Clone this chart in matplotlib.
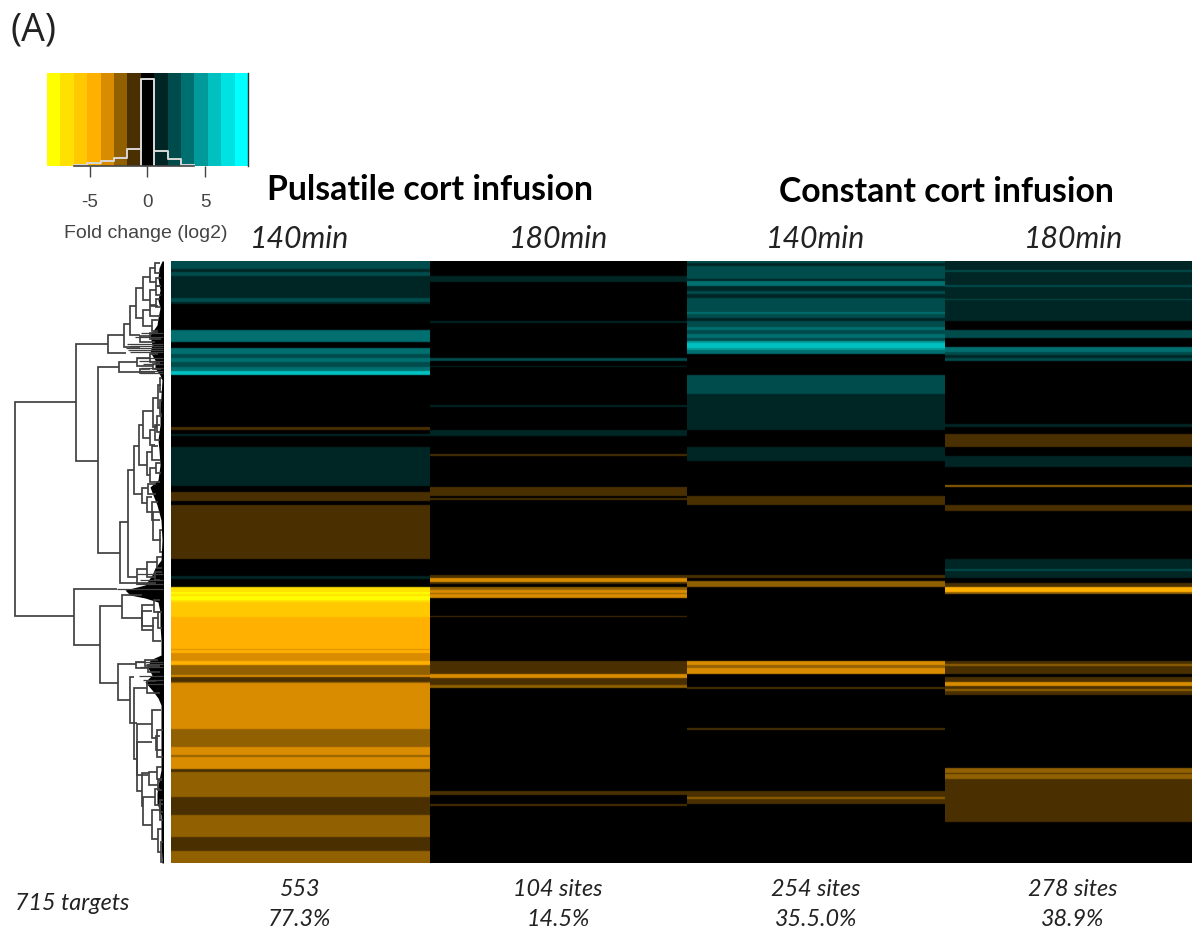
import numpy as np
import matplotlib
matplotlib.use("Agg")
import matplotlib.pyplot as plt
from matplotlib.colors import ListedColormap, BoundaryNorm

W, H = 1192, 933
# ---- data -----------------------------------------------------------------
LEVEL_COLORS = ['#FFFF00', '#FFE000', '#FFC800', '#FFB000', '#DA8C00', '#916000', '#4A3000', '#000000',
                '#002525', '#004B4B', '#006F6F', '#009A9A', '#00C0C0', '#00E2E2', '#00FFFF']
BAR_RANGE = (-8.68, 8.72)
HIST_LEVELS = [-5, -4, -3, -2, -1, 0, 1, 2, 3]
HIST_HEIGHTS = [0.01, 0.03, 0.055, 0.09, 0.18, 0.935, 0.165, 0.08, 0.01]
COLORBAR_TICKS = [-5, 0, 5]

COLUMNS = ['Pulsatile 140min', 'Pulsatile 180min', 'Constant 140min', 'Constant 180min']
ROW_RANGE = (261, 863)
# runs: (row start, row end, level); everything else is level 0
RUNS_P140 = [(261,269,2),(269,272,1),(272,276,2),(276,298,1),(298,302,2),(302,304,1),(330,336,3),(336,342,3),
             (348,354,3),(354,358,2),(358,362,3),(362,367,2),(367,371,3),(371,375,5),(427,430,-1),(434,436,1),
             (447,486,1),(492,501,-1),(505,559,-1),(576,579,1),(587,592,-6),(592,594,-7),(594,596,-6),(596,600,-7),(600,602,-6),
             (602,617,-5),(617,619,-4),(619,649,-4),(649,650,-3),(650,653,-4),(653,661,-3),(661,665,-4),
             (665,675,-2),(675,677,-3),(677,682,-1),(682,683,-2),(683,729,-3),(729,747,-2),(747,755,-3),
             (755,757,-2),(757,769,-3),(769,772,-1),(772,797,-2),(797,815,-1),(815,837,-2),(837,851,-1),(851,863,-2)]
RUNS_P180 = [(276,282,1),(321,323,1),(358,361,2),(366,367,1),(405,407,1),(430,436,1),(454,456,-1),(487,496,-1),
             (498,500,-1),(575,578,-1),(578,582,-3),(582,584,-1),(587,590,-2),(590,593,-3),(593,594,-2),(594,598,-3),
             (616,617,-1),(661,674,-1),(674,678,-3),(678,685,-1),(685,688,-2),(791,795,-1),(804,806,-1)]
RUNS_C140 = [(261,263,2),(263,266,1),(266,279,2),(279,281,1),(281,286,3),(286,291,1),(291,294,2),(294,298,1),
             (298,312,2),(312,314,3),(314,318,2),(318,321,1),(321,327,2),(327,330,3),(330,334,2),(334,338,3),
             (338,341,2),(341,343,4),(343,348,5),(348,350,4),(350,354,3),(375,394,2),(394,430,1),(447,461,1),
             (496,505,-1),(575,578,-1),(581,587,-2),(661,665,-3),(665,668,-2),(668,674,-3),(687,689,-1),
             (728,730,-1),(791,797,-1),(797,799,-2),(799,804,-1)]
RUNS_C180 = [(261,270,1),(270,272,2),(272,285,1),(285,287,2),(287,299,1),(299,300,2),(300,321,1),(330,338,2),
             (347,352,3),(352,355,2),(355,358,1),(358,361,2),(424,427,1),(434,447,-1),(456,467,1),(485,487,-2),
             (505,511,-1),(559,569,1),(569,571,2),(571,578,1),(583,587,-1),(587,592,-4),(592,594,-2),
             (661,664,-1),(664,666,-2),(666,668,-1),(668,674,-1),(677,682,-1),(682,686,-3),(686,689,-1),
             (689,691,-2),(691,695,-1),(768,773,-2),(773,774,-1),(774,779,-2),(779,822,-1)]
ALL_RUNS = [RUNS_P140, RUNS_P180, RUNS_C140, RUNS_C180]

# dendrogram links: (merge x, upper y, upper child x, lower y, lower child x)
LINKS = [(14.5,402,76,616,74),(76,344,108,461,98),(108,335,124,353,126),(124,324,130,347,140),(130,306,136,335,140),
 (136,288,143,318,143),(143,277,150,300,150),(150,268,155,282,156),(155,263,160,273,160),(156,278,161,286,161),
 (150,290,156,305,156),(156,286,161,295,161),(156,299,160,307,161),(143,310,150,326,152),(150,306,158,316,160),
 (152,320,158,331,158),(140,336,150,342,155),(150,333,158,339,161),
 (98,367,119,553,119.5),(119,362,137,372,140),(137,358,150,366,153),(150,354,158,362,160),(153,364,160,369,161),(140,369,150,373,155),
 (119.5,522,128,583,156),(128,470,134,577,137),(134,446,139.3,494,142),(139.3,425,143.3,465,147),(143.3,411,153,438,150),
 (153,398,158,427,157),(158,385,161,408,160),(160,378,162,392,162),(160,400,162,414,162),(157,416,162,432,160),(150,430,155,445,155),
 (155,425,160,440,160),(147,452,152,475,150),(152,446,158,460,160),(150,468,156,482,160),(156,463,161,473,161),
 (142,488,148,503,147),(148,484,156,494,156),(147,497,152,512,153),(152,502,158,520,160),(153,512,160,540,161),(160,530,162,552,162),
 (137,569,147,584,150),(147,562,157,577,155),(157,557,162,568,162),(155,572,162,580,160),
 (74,589,117,645,100),(100,606,122,683,118),(122,595,142,618,142),(142,605,154,630,153),(154,600,160,612,160),
 (153,618,158,641,161),(158,612,162,628,162),(142,611,152,626,154),
 (118,664,136,700,130),(136,662,145,668,148),(145,660,158,666,160),(148,665,158,672,160),
 (130,677,134,723,137),(134,688,147,759,137),(147,681,156,693,160),(137,724,152,791,142),(152,710,161,738,157),
 (157,730,163,757,163),(156,736,160,750,162),(137,742,152,775,148),(142,773,149,806,143),(149,772,157,785,158),
 (157,767,162,779,162),(158,780,162,790,162),(143,797,155,825,152),(155,789,160,805,160),(160,800,163,812,163),
 (152,810,160,839,158),(160,804,163,820,163),(158,829,162,852,161),(161,842,163,862,163)]
# single long leaves: (start x, y)
LEAVES = [(127,344),(130,346),(126,348),(128,350),(130,352),(137,358),(139,361),(143,364),(141,368),(140,371),(140,373),
          (135,337),(141,333),(117,589),(137,574),(140,580),(136,584),(146,664),(135,662),(140,667),(139,676),(143,680),(146,684)]
# left edge of the dense black leaf mass along the rows: (y, x)
MASS_PROFILE = [(261,162),(268,159),(278,158),(290,160),(300,158),(308,160),(318,158),(325,157),(335,150),(345,152),
                (352,150),(360,155),(368,155),(375,160),(380,162),(395,161),(410,160),(425,160),(440,158),(450,159),
                (465,160),(480,158),(487,150),(495,153),(505,157),(520,161),(540,162),(560,161),(568,155),(575,152),
                (585,145),(590,125),(595,130),(598,145),(602,158),(612,160),(625,160),(640,161),(655,161),(660,150),
                (668,148),(675,152),(682,145),(690,152),(698,158),(705,161),(740,161),(770,161),(780,159),(793,157),
                (803,157),(815,161),(840,161),(863,162)]

def axpx(x0, y0, x1, y1):
    return fig.add_axes([x0/W, 1-y1/H, (x1-x0)/W, (y1-y0)/H])
def tx(x, y, s, **k):
    fig.text(x/W, 1-y/H, s, ha=k.pop('ha','center'), va='center', **k)

fig = plt.figure(figsize=(W/100, H/100), dpi=100, facecolor='white')
cmap = ListedColormap(LEVEL_COLORS)
norm = BoundaryNorm(np.arange(-7.5, 8.5), 15)

# heatmap
hm = axpx(171, 261, 1192, 863)
matrix = np.zeros((ROW_RANGE[1]-ROW_RANGE[0], len(COLUMNS)), dtype=int)
for c, runs in enumerate(ALL_RUNS):
    for a, b, lev in runs:
        matrix[a-ROW_RANGE[0]:b-ROW_RANGE[0], c] = lev
rgb = cmap(norm(matrix))[:, :, :3]
# the source picture is a slightly soft screenshot
soft = rgb.copy()
soft[1:-1] = 0.15*rgb[:-2] + 0.7*rgb[1:-1] + 0.15*rgb[2:]
col_edges = np.array([171, 430, 687, 945, 1192])
hm.pcolormesh(col_edges, np.arange(ROW_RANGE[0], ROW_RANGE[1]+1), soft, rasterized=True)
hm.set_xlim(171, 1192); hm.set_ylim(ROW_RANGE[1], ROW_RANGE[0]); hm.axis('off')

# dendrogram
dn = axpx(0, 261, 165, 863)
dn.set_xlim(0, 165); dn.set_ylim(ROW_RANGE[1], ROW_RANGE[0]); dn.axis('off')
for x, y1, x1, y2, x2 in LINKS:
    dn.plot([x1, x, x, x2], [y1, y1, y2, y2], color='#404040', lw=1.25, solid_joinstyle='miter', solid_capstyle='butt')
for x, y in LEAVES:
    dn.plot([x, 163], [y, y], color='#404040', lw=0.9, solid_capstyle='butt')
my, mx = np.array(MASS_PROFILE).T
dn.fill_betweenx(my, mx, 163.5, color='black', lw=0)

# colour key
cb = axpx(47, 73, 248, 166)
edges = np.linspace(BAR_RANGE[0], BAR_RANGE[1], 16)
cb.pcolormesh(edges, [0, 1], np.arange(-7, 8).reshape(1, -1), cmap=cmap, norm=norm)
step_x = [edges[l+7] for l in HIST_LEVELS] + [edges[HIST_LEVELS[-1]+8]]
step_y = HIST_HEIGHTS + [HIST_HEIGHTS[-1]]
cb.step(step_x, step_y, where='post', color='#d8d8d8', lw=1.4, clip_on=False)
cb.vlines([edges[7], edges[8]], 0, HIST_HEIGHTS[5], color='#d8d8d8', lw=1.4)
cb.set_xlim(*BAR_RANGE); cb.set_ylim(0, 1); cb.set_yticks([])
for s in ['left', 'top', 'bottom']:
    cb.spines[s].set_visible(False)
cb.spines['right'].set_color('#333'); cb.spines['right'].set_linewidth(1)
cb.plot([edges[2], edges[11]], [0, 0], color='#444', lw=1.2, clip_on=False)
cb.set_xticks(COLORBAR_TICKS, ['-5', '0', '5'], family='Liberation Sans', fontsize=13.5, color='#444')
cb.tick_params(axis='x', length=8, width=1, color='#444', pad=12.5)

# text
sans = 'Lato'
tx(33, 30, '(A)', family='Open Sans', fontsize=27, color='#222')
tx(146, 234, 'Fold change (log2)', family='Liberation Sans', fontsize=14, color='#444')
tx(430, 190, 'Pulsatile cort infusion', family=sans, fontweight='bold', fontsize=24.3, color='black')
tx(946, 192, 'Constant cort infusion', family=sans, fontweight='bold', fontsize=24.3, color='black')
for x, s in zip([300, 559, 816, 1074], ['140min', '180min', '140min', '180min']):
    tx(x, 239, s, family=sans, style='italic', fontsize=21.8, color='#222')
for x, a, b in zip([300, 558, 816, 1073], ['553', '104 sites', '254 sites', '278 sites'],
                   ['77.3%', '14.5%', '35.5.0%', '38.9%']):
    tx(x, 889, a, family=sans, style='italic', fontsize=16.8, color='#222')
    tx(x, 919, b, family=sans, style='italic', fontsize=16.8, color='#222')
tx(72, 904, '715 targets', family=sans, style='italic', fontsize=16.8, color='#222')

fig.savefig('out.png', dpi=100, facecolor='white')
